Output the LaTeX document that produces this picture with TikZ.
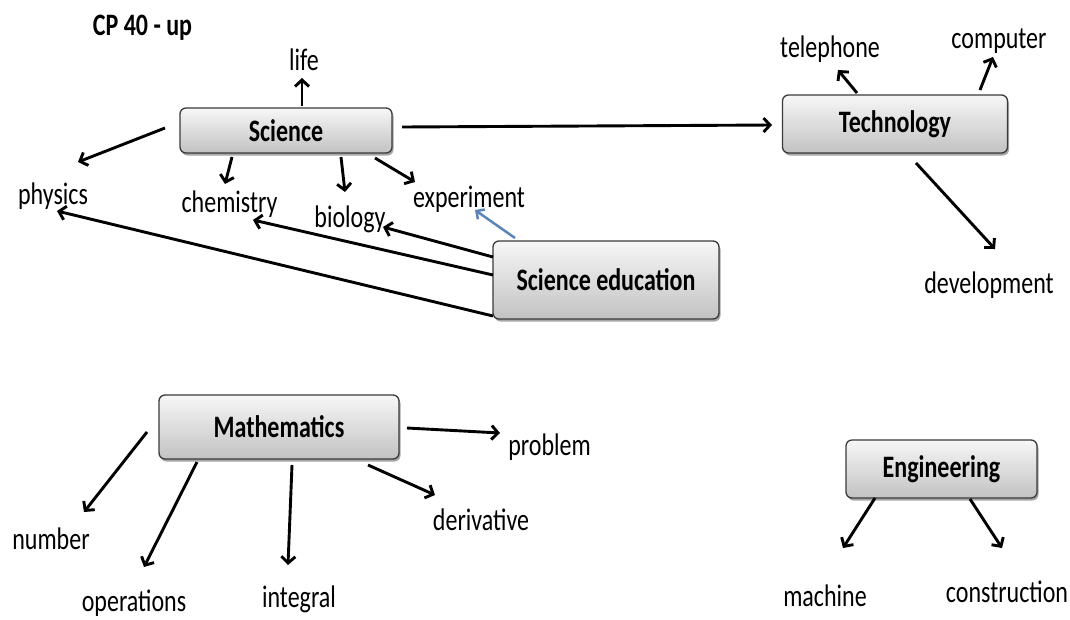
\documentclass[tikz,border=0pt]{standalone}
\usepackage{fontspec}
\usepackage{graphicx}
\setmainfont{Carlito}
\usetikzlibrary{arrows.meta,shadows}
\definecolor{boxtop}{HTML}{F7F7F7}
\definecolor{boxbot}{HTML}{C2C2C2}
\definecolor{boxline}{HTML}{3A3A3A}
\definecolor{bluearr}{HTML}{5B84B8}
\newcommand{\vst}[1]{\scalebox{1}[1.3]{#1}}
\begin{document}
\begin{tikzpicture}[x=1pt,y=-1pt,
  cbox/.style={draw=boxline, line width=1.3pt, rounded corners=6pt,
    top color=boxtop, bottom color=boxbot, inner sep=0pt,
    font=\fontsize{24}{28}\selectfont\bfseries,
    drop shadow={shadow xshift=1.5pt, shadow yshift=-2.5pt, fill=black, opacity=0.35}},
  lbl/.style={inner sep=0pt, text height=21pt, text depth=6pt,
    font=\fontsize{24}{28}\selectfont},
  arr/.style={line width=2.9pt, -{Straight Barb[length=6.5pt,width=14pt]}},
  barr/.style={line width=2.5pt, draw=bluearr, -{Straight Barb[length=6pt,width=12pt]}}
]
\useasboundingbox (0,0) rectangle (1070,619);

% title
\node[lbl, font=\fontsize{24}{28}\selectfont\bfseries] (title) at (142.5,27.5) {\vst{CP 40 - up}};

% boxes
\node[cbox, minimum width=212pt, minimum height=45pt] (sci) at (286,130.5) {\vst{Science}};
\node[cbox, minimum width=225pt, minimum height=58pt] (tech) at (895,124) {\vst{Technology}};
\node[cbox, minimum width=226pt, minimum height=78pt] (sed) at (606,280) {\vst{Science education}};
\node[cbox, minimum width=240pt, minimum height=64pt] (math) at (279,427) {\vst{Mathematics}};
\node[cbox, minimum width=191pt, minimum height=58pt] (eng) at (941.5,469) {\vst{Engineering}};

% labels
\node[lbl] (life) at (304,62.5) {\vst{life}};
\node[lbl] (phys) at (53,196.5) {\vst{physics}};
\node[lbl] (chem) at (229.5,204.5) {\vst{chemistry}};
\node[lbl] (bio) at (350,219.5) {\vst{biology}};
\node[lbl] (exp) at (469,199.5) {\vst{experiment}};
\node[lbl] (tel) at (830,49.5) {\vst{telephone}};
\node[lbl] (comp) at (999,40.5) {\vst{computer}};
\node[lbl] (dev) at (989,285.5) {\vst{development}};
\node[lbl] (prob) at (549.5,447.5) {\vst{problem}};
\node[lbl] (num) at (51,541.5) {\vst{number}};
\node[lbl] (ops) at (134,603.5) {\vst{operations}};
\node[lbl] (int) at (299,599.5) {\vst{integral}};
\node[lbl] (der) at (481,522.5) {\vst{derivative}};
\node[lbl] (mach) at (825,598.5) {\vst{machine}};
\node[lbl] (cons) at (1007,594.5) {\vst{construction}};

% Science arrows
\draw[arr] ([shift={(16,-24.5)}]sci.center) -- ([shift={(-2,15.5)}]life.center);
\draw[arr] ([shift={(-121,-2.5)}]sci.center) -- ([shift={(25,-34.5)}]phys.center);
\draw[arr] ([shift={(-54,26.5)}]sci.center) -- ([shift={(-4.5,-20.5)}]chem.center);
\draw[arr] ([shift={(55,26.5)}]sci.center) -- ([shift={(-5,-27.5)}]bio.center);
\draw[arr] ([shift={(89,27.5)}]sci.center) -- ([shift={(-54,-17.5)}]exp.center);
\draw[arr] ([shift={(116,-3.5)}]sci.center) -- ([shift={(-123,1)}]tech.center);

% Technology arrows
\draw[arr] ([shift={(-38,-31)}]tech.center) -- ([shift={(8,20.5)}]tel.center);
\draw[arr] ([shift={(85,-34)}]tech.center) -- ([shift={(-6,16.5)}]comp.center);
\draw[arr] ([shift={(21,39)}]tech.center) -- ([shift={(6,-36.5)}]dev.center);

% Science education arrows
\draw[arr] ([shift={(-113,36)}]sed.center) -- ([shift={(4,14.5)}]phys.center);
\draw[arr] ([shift={(-113,-5)}]sed.center) -- ([shift={(23.5,15.5)}]chem.center);
\draw[arr] ([shift={(-113,-23)}]sed.center) -- ([shift={(33,7.5)}]bio.center);
\draw[barr] ([shift={(-91,-42)}]sed.center) -- ([shift={(6,10.5)}]exp.center);

% Mathematics arrows
\draw[arr] ([shift={(128,1)}]math.center) -- ([shift={(-49.5,-14.5)}]prob.center);
\draw[arr] ([shift={(-132,5)}]math.center) -- ([shift={(33,-29.5)}]num.center);
\draw[arr] ([shift={(-82,35)}]math.center) -- ([shift={(10,-36.5)}]ops.center);
\draw[arr] ([shift={(13,38)}]math.center) -- ([shift={(-11,-34.5)}]int.center);
\draw[arr] ([shift={(89,38)}]math.center) -- ([shift={(-46,-27.5)}]der.center);

% Engineering arrows
\draw[arr] ([shift={(-66.5,29)}]eng.center) -- ([shift={(18,-50.5)}]mach.center);
\draw[arr] ([shift={(28.5,30)}]eng.center) -- ([shift={(-5,-46.5)}]cons.center);
\end{tikzpicture}
\end{document}
